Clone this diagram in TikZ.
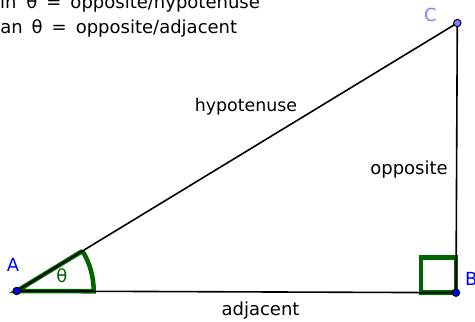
\documentclass[tikz,border=0pt]{standalone}
\usepackage{fontspec}
\setmainfont{DejaVu Sans}
\usetikzlibrary{calc}
\definecolor{angG}{RGB}{0,100,0}
\definecolor{ptBlue}{RGB}{0,0,255}
\definecolor{ptLav}{RGB}{128,128,255}
\tikzset{
  lbl/.style={inner sep=0pt, anchor=base, font=\fontsize{18}{22}\selectfont},
  side/.style={draw=black, line width=1.6pt},
  anglemark/.style={draw=angG, line width=4.5pt},
  ptdot/.style={draw=black, line width=1pt},
}
\begin{document}
\begin{tikzpicture}[x=1pt,y=1pt]
\useasboundingbox (0,0) rectangle (475,322);
\coordinate (A) at (16.7,31);
\coordinate (B) at (456,29.3);
\coordinate (C) at (457.3,299);
% angle sector
\draw[anglemark] ($(A)!77pt!(C)$) -- (A) -- ($(A)!77pt!(B)$) arc[start angle=-0.22, end angle=31.3, radius=77pt];
% right angle square
\draw[anglemark] (B) rectangle ($(B)+(-35,35)$);
% triangle
\draw[side] (A) -- (B) -- (C) -- cycle;
% points
\filldraw[ptdot, fill=ptBlue] (A) circle (3.7);
\filldraw[ptdot, fill=ptBlue] (B) circle (3.7);
\filldraw[ptdot, fill=ptLav] (C) circle (3.7);
% labels
\node[lbl, text=ptBlue] (lA) at (13,50) {A};
\node[lbl, text=ptBlue, anchor=base west] (lB) at (465,37) {B};
\node[lbl, text=ptLav] (lC) at (430.5,300) {C};
\node[lbl, text=angG] (lth) at (62,39) {θ};
\node[lbl, font=\fontsize{17.4}{22}\selectfont] (hyp) at (246,210) {hypotenuse};
\node[lbl] (opp) at (409,147) {opposite};
\node[lbl] (adj) at (260.5,6) {adjacent};
\node[lbl, anchor=base west] (l1) at (-9.5,313) {sin\hspace{0.55em}θ\hspace{0.5em}=\hspace{0.5em}opposite/hypotenuse};
\node[lbl, anchor=base west] (l2) at (-7,288) {tan\hspace{0.5em}θ\hspace{0.5em}=\hspace{0.5em}opposite/adjacent};
\end{tikzpicture}
\end{document}
